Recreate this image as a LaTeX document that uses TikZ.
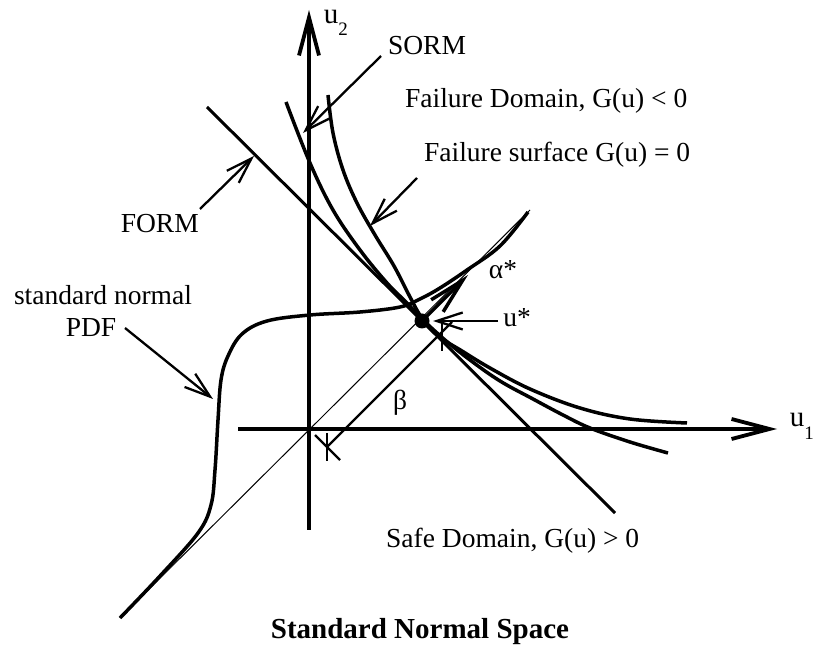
\documentclass[tikz,border=0pt]{standalone}
\usepackage{fontspec}
\setmainfont{Liberation Serif}
\usetikzlibrary{arrows.meta}
\begin{document}
\begin{tikzpicture}[x=1pt,y=-1pt,
  lbl/.style={inner sep=0pt, font=\fontsize{27.5}{30}\selectfont},
  axisline/.style={line width=3.8pt, -{Straight Barb[length=38pt,width=20pt,line width=3.8pt]}},
  curveline/.style={line width=3.5pt},
  formline/.style={line width=3pt},
  thinline/.style={line width=1pt},
  pointer/.style={line width=2.3pt, -{Straight Barb[length=26pt,width=17pt,line width=2.3pt]}},
  tick/.style={line width=2.3pt}
]
\useasboundingbox (0,0) rectangle (815,652);

% coordinates
\coordinate (O) at (309,429);
\coordinate (ustar) at (422,321);
\coordinate (u2top) at (309,10);
\coordinate (u2bot) at (309,530);
\coordinate (u1left) at (238,429);
\coordinate (u1right) at (777,429);
\coordinate (formA) at (207,107);
\coordinate (formB) at (615,513);
\coordinate (thinA) at (120,618);
\coordinate (thinB) at (530,210);
\coordinate (alphatip) at (468,275);
\coordinate (betaA) at (327,447);
\coordinate (betaB) at (452,322);

% axes
\draw[axisline] (u2bot) -- (u2top);
\draw[axisline] (u1left) -- (u1right);

% thin 45 degree line
\draw[thinline] (thinA) -- (thinB);

% FORM tangent line
\draw[formline] (formA) -- (formB);

% failure surface
\draw[curveline] plot[smooth, tension=0.6] coordinates {(328,95) (333,133) (343,170) (357,203) (375,235) (394,266) (410,297) (422,318) (440,337) (462,351) (490,368) (530,389) (580,408) (630,419) (687,423)};

% SORM parabola
\draw[curveline] plot[smooth, tension=0.6] coordinates {(286,102) (310,163) (333,210) (360,250) (387,283) (407,303) (422,319) (445,340) (470,360) (500,381) (533,399) (563,415) (590,428) (630,442) (668,453)};

% standard normal PDF
\draw[curveline] plot[smooth, tension=0.6] coordinates {(120,618) (160,576) (198,533) (211,505) (215,470) (218,420) (221,380) (228,356) (242,334) (267,321) (310,315) (360,312) (400,307) (420,299) (440,288) (467,270) (500,246) (528,212)};

% design point
\fill (ustar) circle (7.5pt);

% alpha arrow
\draw[line width=3.5pt, -{Straight Barb[length=36pt,width=17pt,line width=3.5pt]}] (ustar) -- (alphatip);

% beta dimension line
\draw[line width=2.3pt] (betaA) -- (betaB);
\draw[tick] (327,433) -- (327,461);
\draw[tick] (315,435) -- (340,460);
\draw[tick] (442,323) -- (442,351);

% labels
\node[lbl, font=\fontsize{29}{30}\selectfont] (u2lab) at (331,17) {u};
\node[inner sep=0pt, font=\fontsize{19}{20}\selectfont] (u2sub) at (343,29) {2};
\node[lbl, font=\fontsize{29}{30}\selectfont] (u1lab) at (797,420) {u};
\node[inner sep=0pt, font=\fontsize{19}{20}\selectfont] (u1sub) at (809,433) {1};
\node[lbl] (sorm) at (427,46) {SORM};
\node[lbl, anchor=west] (fdom) at (405,101) {Failure Domain, G(u) < 0};
\node[lbl, anchor=west] (fsurf) at (424,155) {Failure surface G(u) = 0};
\node[lbl, anchor=east] (form) at (199,224) {FORM};
\node[lbl] (stdn) at (103,295) {standard normal};
\node[lbl] (pdf) at (91,328) {PDF};
\node[lbl] (alpha) at (503,270) {α*};
\node[lbl] (ulab) at (517,318) {u*};
\node[lbl] (beta) at (400,403) {β};
\node[lbl, anchor=west] (safe) at (386,541) {Safe Domain, G(u) > 0};
\node[lbl, font=\fontsize{29}{30}\selectfont\bfseries] (title) at (420,632) {Standard Normal Space};

% pointer arrows
\coordinate (sormtail) at (381,56);
\coordinate (sormtip) at (303,133);
\coordinate (fsurftail) at (417,178);
\coordinate (fsurftip) at (370,226);
\coordinate (formtail) at (200,209);
\coordinate (formtip) at (254,156);
\coordinate (pdftail) at (125,328);
\coordinate (pdftip) at (213,399);
\coordinate (ustail) at (498,321);
\coordinate (ustip) at (433,321);
\draw[pointer] (sormtail) -- (sormtip);
\draw[pointer] (fsurftail) -- (fsurftip);
\draw[pointer] (formtail) -- (formtip);
\draw[pointer] (pdftail) -- (pdftip);
\draw[pointer] (ustail) -- (ustip);
\end{tikzpicture}
\end{document}
